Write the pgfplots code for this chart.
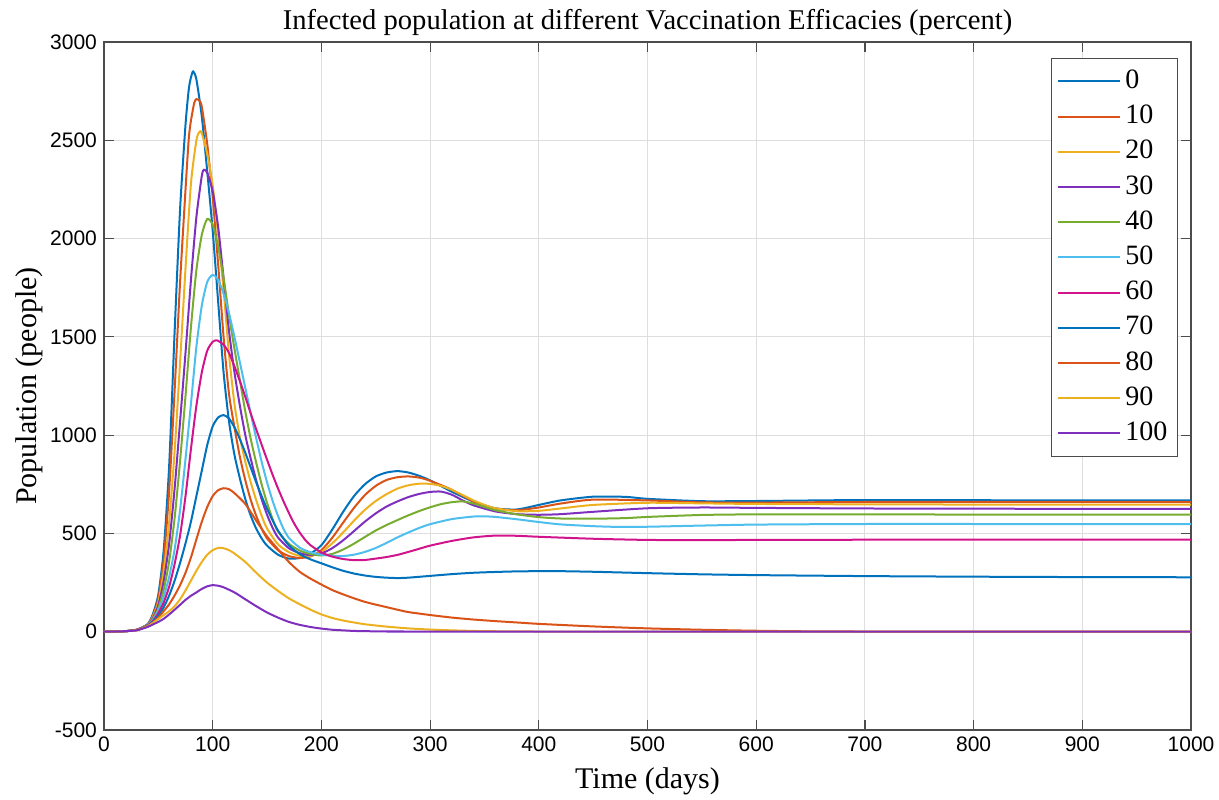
\documentclass[border=0pt]{standalone}
\usepackage{fontspec}
\setmainfont{Liberation Serif}
\setsansfont{Liberation Sans}
\usepackage{pgfplots}
\pgfplotsset{compat=1.18}
\definecolor{c1}{RGB}{0,114,189}
\definecolor{c2}{RGB}{217,83,25}
\definecolor{c3}{RGB}{237,177,32}
\definecolor{c4}{RGB}{126,47,190}
\definecolor{c5}{RGB}{119,172,48}
\definecolor{c6}{RGB}{77,190,238}
\definecolor{c7}{RGB}{210,20,140}
\begin{document}
\begin{tikzpicture}
\begin{axis}[
  scale only axis, width=543.5pt, height=344pt,
  xmin=0, xmax=1000, ymin=-500, ymax=3000,
  xtick={0,100,200,300,400,500,600,700,800,900,1000},
  xticklabels={0,100,200,300,400,500,600,700,800,900,1000},
  ytick={-500,0,500,1000,1500,2000,2500,3000},
  yticklabels={-500,0,500,1000,1500,2000,2500,3000},
  ticklabel style={font=\sffamily\fontsize{10.5}{12}\selectfont, text=black},
  grid=major, major grid style={black!13, line width=0.5pt},
  tick align=inside, major tick length=5pt,
  axis line style={black!70, line width=0.6pt}, tick style={black!70, line width=0.6pt},
  title={Infected population at different Vaccination Efficacies (percent)},
  title style={font=\fontsize{14.3}{16}\selectfont, at={(axis description cs:0.5,1)}, anchor=south, yshift=-6.5pt},
  xlabel={Time (days)},
  xlabel style={font=\fontsize{15}{17}\selectfont, at={(axis description cs:0.5,0)}, anchor=north, yshift=-15.5pt},
  ylabel={Population (people)},
  ylabel style={font=\fontsize{15}{17}\selectfont, at={(axis description cs:-0.0497,0.5)}, anchor=south, rotate=0},
  legend cell align=left,
  legend style={at={(0.988,0.977)}, anchor=north east, draw=black!70, fill=white, line width=0.6pt,
    font=\fontsize{14}{16}\selectfont, row sep=0.6pt, inner xsep=3pt, inner ysep=3pt,
    nodes={inner sep=2pt, text height=10pt, text depth=3pt}},
  legend image code/.code={\draw[#1, line width=1pt] (0pt,0pt) -- (31pt,0pt);},
  every axis plot/.append style={line width=1pt, smooth, tension=0.4},
]
\addplot[c1] coordinates {(0,0)(10,1)(20,3)(30,10)(40,38)(45,90)(50,190)(55,420)(60,850)(65,1530)(70,2150)(75,2580)(78,2760)(80,2820)(82,2850)(85,2810)(90,2620)(95,2340)(100,2040)(105,1680)(110,1320)(115,1070)(120,900)(125,780)(130,675)(135,590)(140,525)(145,475)(150,438)(160,392)(170,372)(180,375)(190,398)(200,440)(210,520)(220,610)(230,690)(240,750)(250,790)(260,810)(270,817)(280,810)(290,793)(300,770)(320,712)(340,662)(360,628)(380,622)(400,645)(420,668)(450,687)(480,686)(500,676)(550,664)(600,665)(700,670)(800,669)(900,668)(1000,668)};
\addlegendentry{0}
\addplot[c2] coordinates {(0,0)(10,1)(20,3)(30,10)(40,36)(45,82)(50,170)(55,370)(60,720)(65,1230)(70,1780)(75,2250)(78,2510)(80,2600)(83,2690)(85,2710)(88,2700)(90,2670)(95,2480)(100,2210)(105,1870)(110,1500)(115,1210)(120,1040)(125,890)(130,770)(135,670)(140,590)(145,525)(150,475)(160,415)(170,385)(180,375)(190,383)(200,415)(210,478)(220,555)(230,630)(240,695)(250,742)(260,772)(270,786)(280,790)(290,784)(300,768)(320,722)(340,663)(360,627)(380,618)(400,632)(420,652)(450,672)(500,668)(550,658)(600,657)(700,660)(800,660)(900,660)(1000,660)};
\addlegendentry{10}
\addplot[c3] coordinates {(0,0)(10,1)(20,3)(30,10)(40,35)(45,76)(50,150)(55,310)(60,560)(65,920)(70,1370)(75,1850)(80,2280)(85,2500)(88,2545)(90,2535)(95,2430)(100,2270)(105,2020)(110,1740)(115,1410)(120,1160)(125,990)(130,865)(135,760)(140,670)(145,590)(150,525)(160,445)(170,405)(180,386)(190,386)(200,405)(210,450)(220,505)(230,565)(240,620)(250,665)(260,700)(270,728)(280,745)(290,753)(300,752)(310,742)(320,722)(330,695)(340,668)(350,645)(360,628)(380,613)(400,615)(420,627)(450,645)(500,656)(550,653)(600,650)(700,648)(800,647)(900,647)(1000,647)};
\addlegendentry{20}
\addplot[c4] coordinates {(0,0)(10,1)(20,3)(30,10)(40,34)(45,70)(50,135)(55,260)(60,450)(65,730)(70,1070)(75,1420)(80,1790)(85,2110)(90,2320)(92,2350)(95,2335)(100,2240)(105,2060)(110,1800)(115,1530)(120,1320)(125,1150)(130,1000)(135,880)(140,770)(145,675)(150,595)(155,530)(160,480)(170,425)(180,400)(190,390)(200,398)(210,425)(220,465)(230,512)(240,560)(250,602)(260,637)(270,663)(280,685)(290,701)(300,711)(310,713)(320,697)(330,668)(340,643)(360,612)(380,598)(400,595)(420,598)(450,610)(500,628)(550,632)(600,630)(700,627)(800,626)(900,625)(1000,625)};
\addlegendentry{30}
\addplot[c5] coordinates {(0,0)(10,1)(20,3)(30,9)(40,33)(45,65)(50,120)(55,215)(60,360)(65,580)(70,870)(75,1200)(80,1550)(85,1840)(90,2020)(95,2100)(100,2070)(105,1960)(110,1800)(115,1610)(120,1440)(125,1280)(130,1120)(135,980)(140,860)(145,750)(150,655)(155,575)(160,510)(170,448)(180,413)(190,395)(200,388)(210,396)(220,418)(230,448)(240,482)(250,515)(260,543)(270,568)(280,592)(290,614)(300,633)(310,649)(320,659)(330,663)(340,652)(350,635)(360,618)(380,597)(400,583)(420,576)(450,575)(480,578)(500,584)(550,594)(600,597)(700,597)(800,596)(900,596)(1000,596)};
\addlegendentry{40}
\addplot[c6] coordinates {(0,0)(10,1)(20,3)(30,9)(40,32)(45,60)(50,108)(55,180)(60,280)(65,420)(70,620)(75,880)(80,1160)(85,1450)(90,1660)(95,1780)(100,1815)(105,1790)(110,1720)(115,1620)(120,1500)(125,1370)(130,1240)(135,1110)(140,985)(145,865)(150,760)(155,668)(160,590)(165,525)(170,478)(180,428)(190,404)(200,392)(210,386)(220,385)(230,392)(240,406)(250,426)(260,452)(270,480)(280,505)(290,528)(300,547)(320,573)(340,586)(350,587)(360,584)(380,572)(400,558)(420,546)(450,537)(475,533)(500,534)(550,540)(600,545)(700,548)(800,548)(900,547)(1000,547)};
\addlegendentry{50}
\addplot[c7] coordinates {(0,0)(10,1)(20,3)(30,9)(40,31)(45,55)(50,95)(55,150)(60,230)(65,345)(70,490)(75,690)(80,930)(85,1150)(90,1320)(95,1430)(100,1475)(104,1482)(110,1460)(115,1418)(120,1350)(125,1275)(130,1195)(135,1110)(140,1030)(145,952)(150,875)(155,800)(160,730)(165,665)(170,605)(175,550)(180,505)(185,468)(190,440)(200,403)(210,382)(220,370)(230,364)(240,365)(250,372)(260,380)(270,391)(280,406)(290,422)(300,438)(320,462)(340,480)(360,489)(380,488)(400,483)(450,473)(500,467)(550,466)(600,467)(700,468)(800,469)(900,469)(1000,469)};
\addlegendentry{60}
\addplot[c1] coordinates {(0,0)(10,1)(20,3)(30,8)(40,29)(45,50)(50,82)(55,125)(60,185)(65,260)(70,350)(75,450)(80,560)(85,690)(90,820)(95,950)(100,1045)(105,1090)(110,1102)(115,1085)(120,1040)(125,980)(130,910)(135,835)(140,760)(145,690)(150,625)(160,515)(170,440)(180,395)(190,368)(200,348)(210,328)(220,310)(230,296)(240,286)(250,279)(260,275)(270,273)(280,275)(300,284)(320,293)(340,300)(360,304)(380,307)(400,308)(420,308)(450,305)(500,298)(550,292)(600,288)(700,283)(800,280)(900,278)(1000,277)};
\addlegendentry{70}
\addplot[c2] coordinates {(0,0)(10,1)(20,3)(30,8)(40,28)(45,46)(50,72)(55,105)(60,140)(65,185)(70,237)(75,300)(80,378)(85,470)(90,560)(95,635)(100,690)(105,720)(110,730)(115,725)(120,705)(130,650)(140,565)(150,485)(160,420)(170,355)(180,305)(190,270)(200,240)(210,212)(220,190)(230,170)(240,152)(250,138)(260,125)(270,112)(280,100)(300,85)(320,72)(340,62)(360,54)(380,47)(400,40)(450,27)(500,17)(550,10)(600,5)(650,2)(700,1)(800,0)(900,0)(1000,0)};
\addlegendentry{80}
\addplot[c3] coordinates {(0,0)(10,1)(20,3)(30,7)(40,27)(45,44)(50,65)(55,85)(60,105)(65,130)(70,165)(75,210)(80,260)(85,310)(90,355)(95,392)(100,415)(105,426)(110,425)(115,415)(120,398)(130,355)(140,300)(150,250)(160,208)(170,170)(180,140)(190,112)(200,88)(210,70)(220,57)(230,47)(240,38)(260,26)(280,17)(300,11)(320,7)(350,3)(400,1)(450,0)(1000,0)};
\addlegendentry{90}
\addplot[c4] coordinates {(0,0)(10,1)(20,3)(30,7)(40,24)(45,37)(50,50)(55,66)(60,88)(65,112)(70,137)(75,162)(80,183)(85,200)(90,218)(95,231)(100,237)(105,234)(110,226)(120,200)(130,165)(140,130)(150,98)(160,72)(170,50)(180,35)(190,24)(200,16)(210,10)(220,7)(230,4)(250,2)(280,1)(300,0)(1000,0)};
\addlegendentry{100}
\coordinate (LL) at (rel axis cs:0,0);
\end{axis}
\pgfresetboundingbox
\path (LL) ++(-52pt,-34.5pt) rectangle ++(609.5pt,399.5pt);
\end{tikzpicture}
\end{document}
